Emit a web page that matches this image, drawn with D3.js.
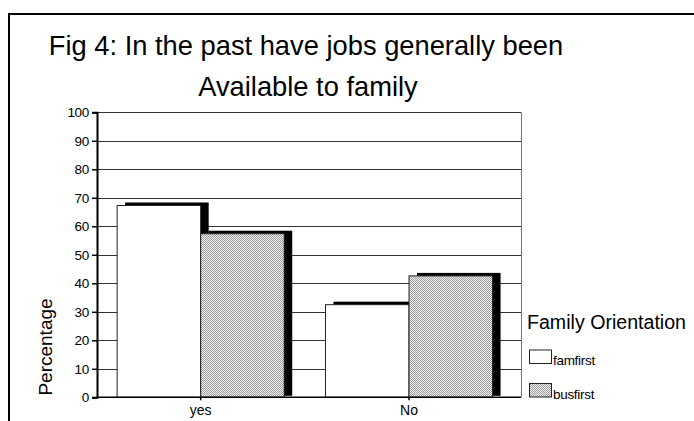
<!DOCTYPE html>
<html>
<head>
<meta charset="utf-8">
<script src="https://cdn.jsdelivr.net/npm/d3@7"></script>
<style>
  html, body { margin: 0; padding: 0; background: #fff; }
  svg { display: block; font-family: Arial, "Liberation Sans", sans-serif; }
</style>
</head>
<body>
<svg id="chart" width="694" height="421"></svg>
<script>
const categories = ["yes", "No"];
const seriesNames = ["famfirst", "busfirst"];
const famfirst = [67.3, 32.5];
const busfirst = [57.4, 42.6];
const yTicks = [0, 10, 20, 30, 40, 50, 60, 70, 80, 90, 100];
const titleLines = ["Fig 4: In the past have jobs generally been", "Available to family"];
const yTitle = "Percentage";
const legendTitle = "Family Orientation";

const svg = d3.select("#chart");

// pattern for busfirst
const defs = svg.append("defs");
const pat = defs.append("pattern").attr("id", "dots").attr("width", 2).attr("height", 2)
  .attr("patternUnits", "userSpaceOnUse");
pat.append("rect").attr("width", 2).attr("height", 2).attr("fill", "#f2f2f2");
pat.append("rect").attr("x", 0).attr("y", 0).attr("width", 1).attr("height", 1).attr("fill", "#9a9a9a");
pat.append("rect").attr("x", 1).attr("y", 1).attr("width", 1).attr("height", 1).attr("fill", "#9a9a9a");

// outer frame
svg.append("rect").attr("x", 9).attr("y", 14).attr("width", 700).attr("height", 420)
  .attr("fill", "none").attr("stroke", "#000").attr("stroke-width", 2);

// title
svg.append("text").attr("x", 306).attr("y", 55).attr("text-anchor", "middle")
  .attr("font-size", 27.3).text(titleLines[0]);
svg.append("text").attr("x", 308).attr("y", 96).attr("text-anchor", "middle")
  .attr("font-size", 27.3).text(titleLines[1]);

const plotLeft = 97, plotRight = 521, depthX = 8, depthY = 3;
const y = d3.scaleLinear().domain([0, 100]).range([397.3, 112.3]);
const x0 = d3.scaleBand().domain(categories).range([96.5, 513.2])
  .paddingInner(0.198).paddingOuter(0.099);
const x1 = d3.scaleBand().domain(seriesNames).range([0, x0.bandwidth()]);

// gridlines
svg.append("g").selectAll("line").data(yTicks.filter(d => d > 0)).join("line")
  .attr("x1", plotLeft).attr("x2", plotRight)
  .attr("y1", d => Math.round(y(d)) + 0.5).attr("y2", d => Math.round(y(d)) + 0.5)
  .attr("stroke", "#333").attr("stroke-width", 1);
// right wall edge
svg.append("line").attr("x1", plotRight + 0.5).attr("x2", plotRight + 0.5)
  .attr("y1", y(100)).attr("y2", y(0)).attr("stroke", "#777");

// y axis
const yAxis = d3.axisLeft(y).tickValues(yTicks).tickSize(5).tickPadding(3);
const gy = svg.append("g").attr("transform", `translate(${plotLeft},0)`).call(yAxis);
gy.select(".domain").attr("stroke", "#000").attr("stroke-width", 2);
gy.selectAll(".tick line").attr("stroke", "#000").attr("stroke-width", 1.5);
gy.selectAll(".tick text").attr("font-size", 13.5).attr("fill", "#000")
  .attr("font-family", "Arial, 'Liberation Sans', sans-serif").attr("letter-spacing", -0.3);

// bars
const data = categories.map((c, i) => ({ cat: c, values: [
  { key: "famfirst", v: famfirst[i] }, { key: "busfirst", v: busfirst[i] } ] }));
const gBars = svg.append("g");
data.forEach(d => {
  d.values.forEach(s => {
    const bx = x0(d.cat) + x1(s.key);
    const by = y(s.v);
    gBars.append("rect")
      .attr("x", bx + depthX).attr("y", by - depthY)
      .attr("width", x1.bandwidth()).attr("height", y(0) - by + depthY - 1.5)
      .attr("fill", "#000");
    gBars.append("rect")
      .attr("x", bx).attr("y", by)
      .attr("width", x1.bandwidth()).attr("height", y(0) - by)
      .attr("fill", s.key === "famfirst" ? "#fff" : "url(#dots)")
      .attr("stroke", "#222").attr("stroke-width", 1);
  });
});

// x axis
const xAxis = d3.axisBottom(x0).tickSize(3).tickPadding(5);
const gx = svg.append("g").attr("transform", `translate(0,${y(0)})`).call(xAxis);
gx.select(".domain").remove();
svg.append("line").attr("x1", plotLeft).attr("x2", plotRight)
  .attr("y1", y(0)).attr("y2", y(0)).attr("stroke", "#000").attr("stroke-width", 1.5);
gx.selectAll(".tick line").attr("stroke", "#000").attr("stroke-width", 1.5);
gx.selectAll(".tick text").attr("font-size", 14).attr("fill", "#000")
  .attr("font-family", "Arial, 'Liberation Sans', sans-serif");

// y title
svg.append("text").attr("transform", "translate(51.5,347) rotate(-90)")
  .attr("text-anchor", "middle").attr("font-size", 19).text(yTitle);

// legend
svg.append("text").attr("x", 527).attr("y", 329).attr("font-size", 19.6).text(legendTitle);
const lg = svg.append("g");
seriesNames.forEach((s, i) => {
  const ly = 350 + i * 33.5;
  lg.append("rect").attr("x", 529.5).attr("y", ly).attr("width", 22).attr("height", 13.5)
    .attr("fill", s === "famfirst" ? "#fff" : "url(#dots)").attr("stroke", "#222");
  lg.append("text").attr("x", 553).attr("y", ly + 15).attr("font-size", 13.5)
    .attr("letter-spacing", -0.3).text(s);
});
</script>
</body>
</html>
